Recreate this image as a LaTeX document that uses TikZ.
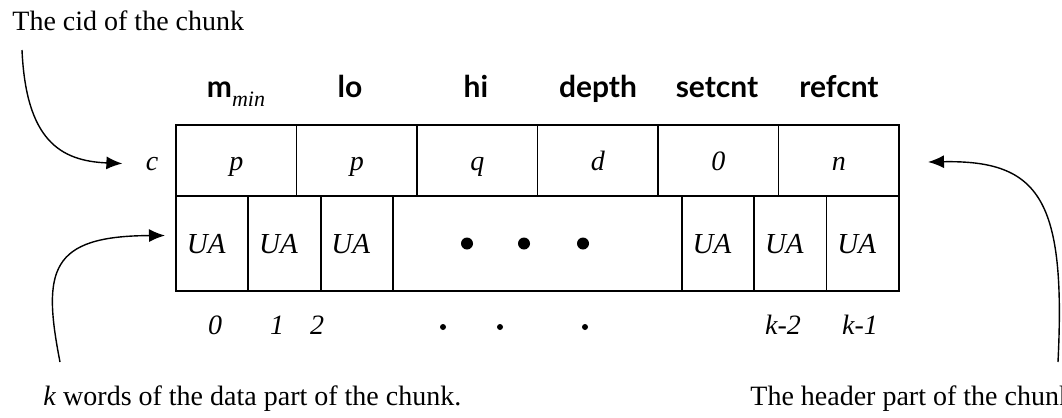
\documentclass[tikz,border=0pt]{standalone}
\usepackage{fontspec}
\setmainfont{Liberation Serif}
\newfontfamily\hdfont{Lato}
\usetikzlibrary{positioning,arrows.meta}

\tikzset{
  hcell/.style={draw,line width=0.9pt,inner sep=0pt,outer sep=0pt,minimum width=60.25pt,minimum height=35.5pt,text height=12pt,text depth=2pt,font=\fontsize{14}{17}\selectfont\itshape},
  ucell/.style={draw,line width=0.9pt,inner sep=0pt,outer sep=0pt,minimum width=36.15pt,minimum height=47.5pt,text height=11pt,text depth=1pt,font=\fontsize{14.5}{17}\selectfont\itshape},
  hd/.style={anchor=base,inner sep=0pt,font=\hdfont\bfseries\fontsize{15}{18}\selectfont},
  idx/.style={anchor=base,inner sep=0pt,font=\fontsize{14}{17}\selectfont\itshape},
  txt/.style={anchor=base west,inner sep=0pt,font=\fontsize{14}{17}\selectfont},
  arr/.style={line width=0.7pt,-{Latex[length=8pt,width=6.5pt]}}
}

\begin{document}
\begin{tikzpicture}[x=0.5pt,y=-0.5pt,inner sep=0.4mm]
\useasboundingbox (0,0) rectangle (1062,418);
\coordinate (cidtail) at (22,50);
\coordinate (datatail) at (60,362);
\coordinate (headtail) at (1058,362);

% header words
\node[hcell] (h1) at (236.25,160.5) {p};
\node[hcell,right=0pt of h1] (h2) {p};
\node[hcell,right=0pt of h2] (h3) {q};
\node[hcell,right=0pt of h3] (h4) {d};
\node[hcell,right=0pt of h4] (h5) {0};
\node[hcell,right=0pt of h5] (h6) {n};

% data words
\node[ucell,anchor=north west] (u1) at (h1.south west) {UA\hspace*{6pt}};
\node[ucell,right=0pt of u1] (u2) {UA\hspace*{6pt}};
\node[ucell,right=0pt of u2] (u3) {UA\hspace*{6pt}};
\node[ucell,right=0pt of u3,minimum width=144.5pt] (mid) {};
\node[ucell,right=0pt of mid] (u4) {UA\hspace*{6pt}};
\node[ucell,right=0pt of u4] (u5) {UA\hspace*{6pt}};
\node[ucell,right=0pt of u5] (u6) {UA\hspace*{6pt}};
\fill (467,243.5) circle (3pt) (524,243.5) circle (3pt) (583,243.5) circle (3pt);

% field names
\node[hd] (mmin) at (236,97) {m\raisebox{-4.5pt}{\normalfont\fontsize{11}{11}\selectfont\itshape min}};
\node[hd] (lo) at (350,97) {lo};
\node[hd] (hi) at (476,97) {hi};
\node[hd] (depth) at (598,97) {depth};
\node[hd] (setcnt) at (717,97) {setcnt};
\node[hd] (refcnt) at (839,97) {refcnt};

\node[idx] (cid) at (152,170) {c};

% word indices
\node[idx] (i0) at (215,334) {0};
\node[idx] (i1) at (277,334) {1};
\node[idx] (i2) at (317,334) {2};
\node[idx] (ik2) at (783,334) {k-2};
\node[idx] (ik1) at (860,334) {k-1};
\fill (443,327) circle (1.5pt) (500,327) circle (1.5pt) (585,327) circle (1.5pt);

\node[txt] (cidtxt) at (12,30) {The cid of the chunk};
\node[txt] (datatxt) at (43,405) {\textit{k} words of the data part of the chunk.};
\node[txt] (headtxt) at (750,405) {The header part of the chunk.};

\draw[arr] (cidtail) .. controls (26,140) and (60,161) .. ([xshift=-11.5pt]cid.west);
\draw[arr] (datatail) .. controls (42,270) and (50,236) .. ([xshift=-5.5pt,yshift=4pt]u1.west);
\draw[arr] (headtail) .. controls (1066,200) and (1040,160) .. ([xshift=14.5pt,yshift=-0.75pt]h6.east);

\end{tikzpicture}
\end{document}
